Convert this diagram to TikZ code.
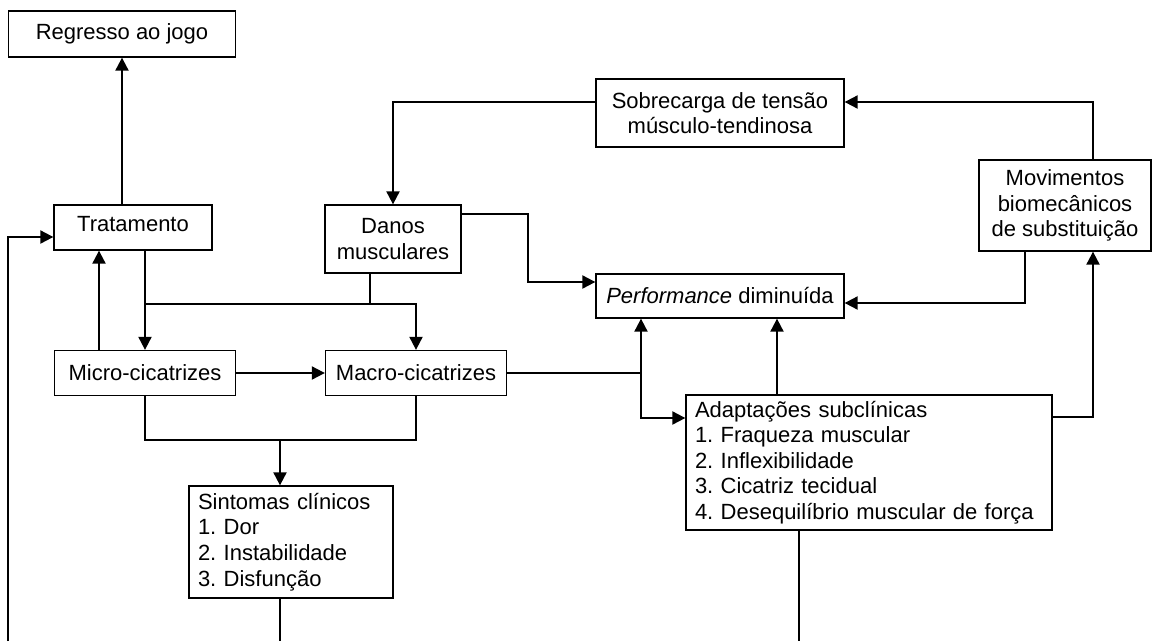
\documentclass[tikz,border=0pt]{standalone}
\usepackage{fontspec}
\setmainfont{Liberation Sans}
\frenchspacing
\usetikzlibrary{arrows.meta, calc}

\begin{document}
\begin{tikzpicture}[x=1pt, y=-1pt, >={Triangle[length=13pt, width=13pt]},
    font=\fontsize{22}{25.6}\selectfont,
    caixa/.style={draw, line width=1.3pt, inner sep=0pt, align=center},
    lista/.style={caixa, align=left, inner xsep=9pt},
    seta/.style={line width=2pt}]
    \useasboundingbox (0,0) rectangle (1152,641);

    % Caixas do diagrama
    \node[caixa, minimum width=227pt, minimum height=46pt] (regresso) at (122,34) {Regresso ao jogo};
    \node[caixa, minimum width=158pt, minimum height=45pt] (trat) at (133,227.5) {\raisebox{7pt}{Tratamento}};
    \node[caixa, minimum width=136pt, minimum height=68pt] (danos) at (393,239) {Danos\\musculares};
    \node[caixa, minimum width=248pt, minimum height=68pt] (sobre) at (720,113) {Sobrecarga de tensão\\músculo-tendinosa};
    \node[caixa, minimum width=172pt, minimum height=91pt] (movim) at (1065,205.5) {Movimentos\\biomecânicos\\de substituição};
    \node[caixa, minimum width=248pt, minimum height=44pt] (perf) at (720,296) {\textit{Performance} diminuída};
    \node[caixa, minimum width=181pt, minimum height=45pt] (micro) at (145,373) {Micro-cicatrizes};
    \node[caixa, minimum width=181pt, minimum height=45pt] (macro) at (416,373) {Macro-cicatrizes};
    \node[lista, text width=348pt, minimum height=135pt] (adapt) at (869,462.5)
        {Adaptações subclínicas\\1. Fraqueza muscular\\2. Inflexibilidade\\3. Cicatriz tecidual\\4. Desequilíbrio muscular de força};
    \node[lista, text width=186pt, minimum height=112pt] (sint) at (291,542)
        {Sintomas clínicos\\1. Dor\\2. Instabilidade\\3. Disfunção};

    % Pontos auxiliares das ligações
    \coordinate (fimEsq) at (8,641);
    \coordinate (juncao1) at (0,304);
    \coordinate (juncao2) at (0,440);
    \coordinate (dobra) at (528,0);
    \coordinate (tU) at ($(micro.north)+(-46,0)$);
    \coordinate (dB) at ($(danos.south)+(-23,0)$);
    \coordinate (dR) at ($(danos.east)+(0,-25)$);
    \coordinate (sN) at ($(sint.north)+(-11,0)$);
    \coordinate (pL) at ($(perf.west)+(0,-14)$);
    \coordinate (pB) at ($(perf.south)+(-79,0)$);
    \coordinate (pE) at ($(perf.east)+(0,7)$);
    \coordinate (aW) at ($(adapt.west)+(0,-44.5)$);
    \coordinate (aN) at ($(adapt.north)+(-92,0)$);
    \coordinate (aE) at ($(adapt.east)+(0,-45.5)$);
    \coordinate (aS) at ($(adapt.south)+(-70,0)$);
    \coordinate (mS) at ($(movim.south)+(28,0)$);
    \coordinate (mS2) at ($(movim.south)+(-40,0)$);
    \coordinate (mN) at ($(movim.north)+(28,0)$);
    \coordinate (sE) at ($(sobre.east)+(0,-11)$);
    \coordinate (sW) at ($(sobre.west)+(0,-11)$);

    % Lado esquerdo: tratamento e cicatrizes
    \draw[seta, ->] (trat.north -| regresso.south) -- (regresso.south);
    \draw[seta, ->] (fimEsq) |- ($(trat.west)+(0,9.5)$);
    \draw[seta, ->] (tU) -- (tU |- trat.south);
    \draw[seta, ->] (micro.north |- trat.south) -- (micro.north);
    \draw[seta, ->] (micro.north |- juncao1) -- (macro.north |- juncao1) -- (macro.north);
    \draw[seta] (dB) -- (dB |- juncao1);
    \draw[seta, ->] (micro) -- (macro);
    \draw[seta] (micro.south) |- (macro.south |- juncao2) -- (macro.south);
    \draw[seta, ->] (sN |- juncao2) -- (sN);
    \draw[seta] (sint.south -| sN) -- (sN |- fimEsq);

    % Lado direito: performance e adaptações
    \draw[seta, ->] (sW) -| (danos.north);
    \draw[seta, ->] (dR) -- (dR -| dobra) |- (pL);
    \draw[seta] (macro.east) -- (macro.east -| pB);
    \draw[seta, <->] (pB) |- (aW);
    \draw[seta, ->] (aN) -- (aN |- perf.south);
    \draw[seta, ->] (aE) -| (mS);
    \draw[seta, ->] (mS2) |- (pE);
    \draw[seta, ->] (mN) |- (sE);
    \draw[seta] (aS) -- (aS |- fimEsq);
\end{tikzpicture}
\end{document}
